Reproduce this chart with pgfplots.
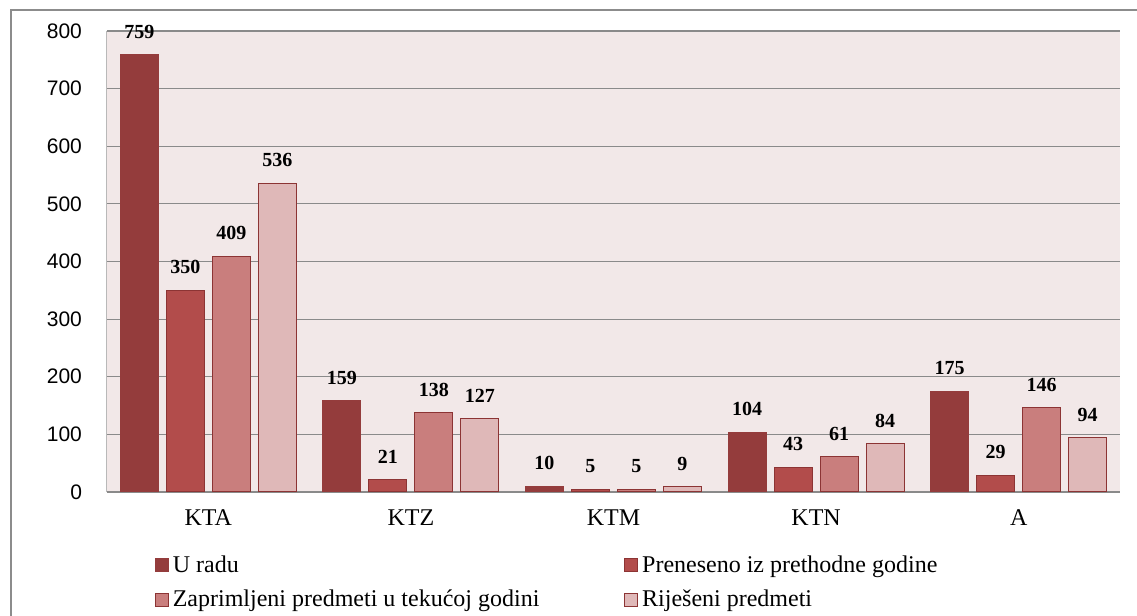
\documentclass[border=0pt]{standalone}
\usepackage{fontspec}
\setmainfont{Liberation Serif}
\setsansfont{Liberation Sans}
\usepackage{pgfplots}
\pgfplotsset{compat=1.18}
\definecolor{cA}{RGB}{148,60,60}
\definecolor{cB}{RGB}{178,76,75}
\definecolor{cC}{RGB}{201,126,125}
\definecolor{cD}{RGB}{223,184,184}
\definecolor{edge}{RGB}{140,52,52}
\definecolor{bgc}{RGB}{242,232,232}
\definecolor{gridc}{RGB}{138,138,138}
\definecolor{borderc}{RGB}{140,140,140}
\begin{document}
\begin{tikzpicture}
\path[use as bounding box] (0,0) rectangle (568.5pt,308pt);
\begin{scope}
\clip (0,0) rectangle (568.5pt,308pt);
\draw[draw=borderc, line width=1pt] (5.5pt,-20pt) rectangle (600pt,303pt);
\end{scope}
\begin{axis}[
  at={(53.5pt,62pt)}, anchor=south west,
  width=506.5pt, height=230.5pt, scale only axis,
  ybar=4pt, bar width=19pt,
  xmin=-0.5, xmax=4.5, ymin=0, ymax=800,
  xtick={0,1,2,3,4},
  xticklabels={KTA,KTZ,KTM,KTN,A},
  ytick={0,100,...,800},
  /pgf/number format/assume math mode=true,
  axis x line=bottom, axis y line=left,
  x axis line style={-, draw=gridc, line width=1.1pt},
  y axis line style={-, draw=gray!55, line width=0.5pt},
  major tick length=0pt,
  ymajorgrids, grid style={draw=gridc, line width=0.6pt},
  axis background/.style={fill=bgc},
  clip=false,
  yticklabel style={font=\sffamily\fontsize{10.5}{12}\selectfont, xshift=-9pt},
  xticklabel style={font=\fontsize{12}{14}\selectfont, yshift=-5.5pt},
  nodes near coords,
  every node near coord/.append style={font=\bfseries\fontsize{10}{11}\selectfont, yshift=4.5pt, black},
  legend columns=2,
  legend cell align=left,
  legend style={at={(0.047,-0.128)}, anchor=north west, draw=none, fill=none,
    font=\fontsize{12}{14}\selectfont, inner sep=0pt, row sep=3.5pt,
    /tikz/every even column/.append style={column sep=40.5pt}},
  legend image code/.code={\draw[#1, line width=0.5pt] (0pt,-3.2pt) rectangle (6.4pt,3.2pt);},
]
\addplot[fill=cA, draw=cA, line width=0.5pt] coordinates {(0,759) (1,159) (2,10) (3,104) (4,175)};
\addplot[fill=cB, draw=edge, line width=0.5pt] coordinates {(0,350) (1,21) (2,5) (3,43) (4,29)};
\addplot[fill=cC, draw=edge, line width=0.5pt] coordinates {(0,409) (1,138) (2,5) (3,61) (4,146)};
\addplot[fill=cD, draw=edge, line width=0.5pt] coordinates {(0,536) (1,127) (2,9) (3,84) (4,94)};
\legend{U radu, Preneseno iz prethodne godine, Zaprimljeni predmeti u tekućoj godini, Riješeni predmeti}
\end{axis}
\end{tikzpicture}
\end{document}
